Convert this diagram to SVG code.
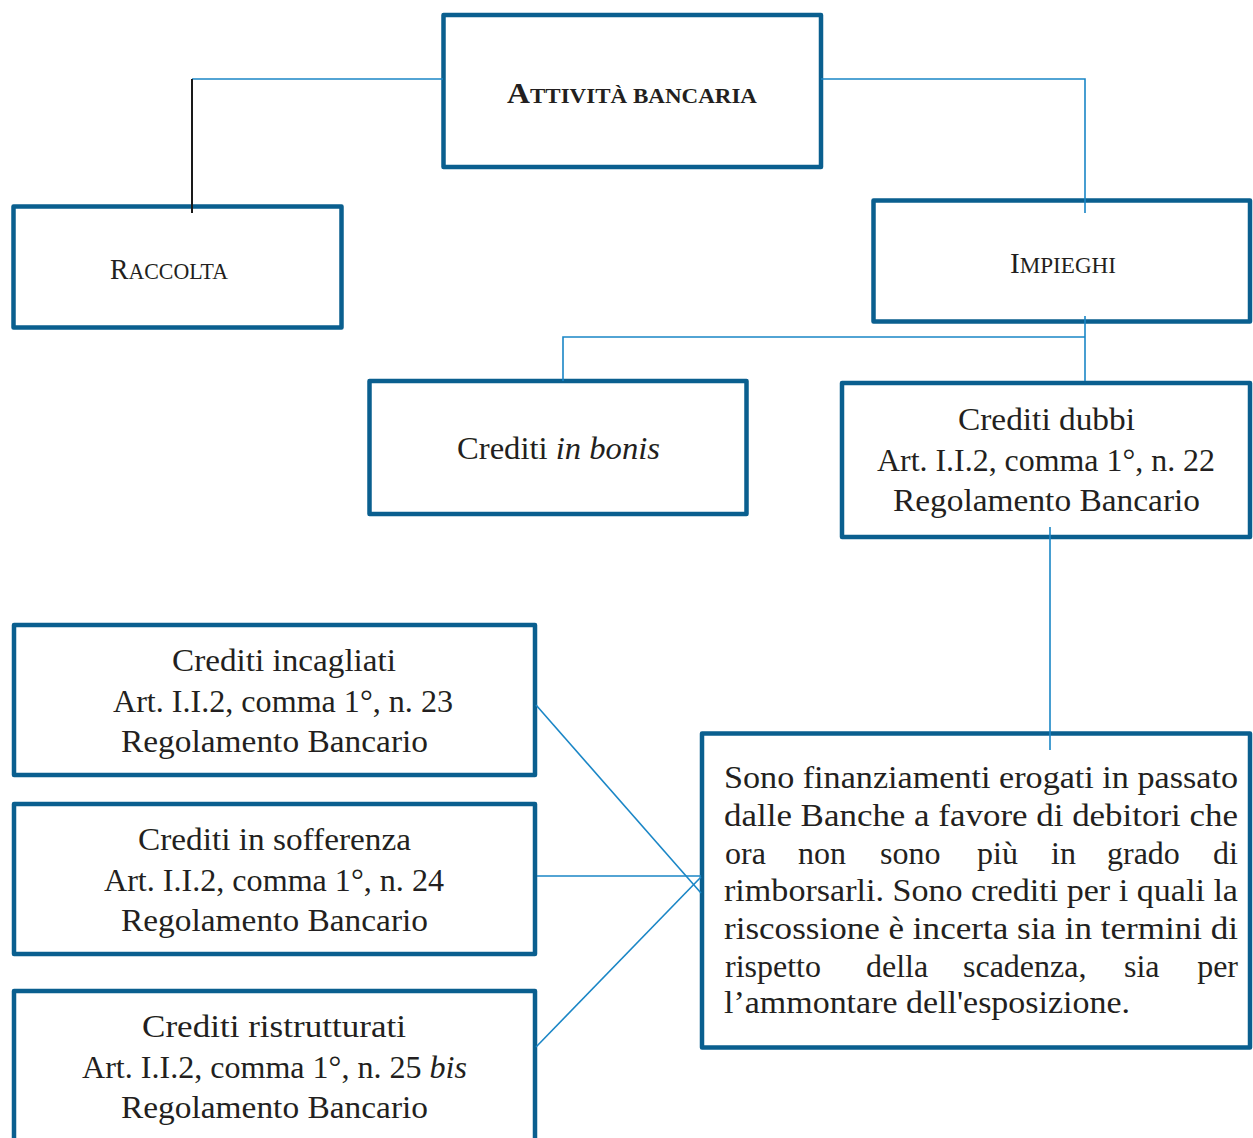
<svg xmlns="http://www.w3.org/2000/svg" width="1253" height="1138" viewBox="0 0 1253 1138">
<style>
.box{fill:#ffffff;stroke:#0a5f8f;stroke-width:4.5;stroke-linejoin:round}
.t{font-family:"Liberation Serif","Times New Roman",serif;font-size:32px;fill:#231f20}
.c{text-anchor:middle}
.e{text-anchor:end}
.con{fill:none;stroke:#1a86c6;stroke-width:1.6}
</style>
<rect width="1253" height="1138" fill="#ffffff"/>
<g id="attivita">
<rect class="box" x="443.5" y="15" width="377.5" height="152"/>
<text class="t c" x="632" y="103" font-weight="bold" textLength="250" lengthAdjust="spacingAndGlyphs"><tspan font-size="29">A</tspan><tspan font-size="21">TTIVITÀ BANCARIA</tspan></text>
</g>
<g id="raccolta">
<rect class="box" x="13.5" y="206.5" width="328" height="121"/>
<text class="t c" x="169" y="279" textLength="118" lengthAdjust="spacingAndGlyphs"><tspan font-size="29">R</tspan><tspan font-size="23">ACCOLTA</tspan></text>
</g>
<g id="impieghi">
<rect class="box" x="873.5" y="200.5" width="376.5" height="121"/>
<text class="t c" x="1063" y="273" textLength="106" lengthAdjust="spacingAndGlyphs"><tspan font-size="29">I</tspan><tspan font-size="23">MPIEGHI</tspan></text>
</g>
<g id="bonis">
<rect class="box" x="369.5" y="381" width="377" height="133"/>
<text class="t c" x="558.5" y="459" textLength="203" lengthAdjust="spacingAndGlyphs">Crediti <tspan font-style="italic">in bonis</tspan></text>
</g>
<g id="dubbi">
<rect class="box" x="842" y="383" width="408" height="154"/>
<text class="t c" x="1046.5" y="430" textLength="177" lengthAdjust="spacingAndGlyphs">Crediti dubbi</text>
<text class="t c" x="1046" y="471" textLength="338" lengthAdjust="spacingAndGlyphs">Art. I.I.2, comma 1°, n. 22</text>
<text class="t c" x="1046.5" y="511" textLength="307" lengthAdjust="spacingAndGlyphs">Regolamento Bancario</text>
</g>
<g id="incagliati">
<rect class="box" x="14" y="625" width="521" height="150"/>
<text class="t c" x="284" y="671" textLength="224" lengthAdjust="spacingAndGlyphs">Crediti incagliati</text>
<text class="t c" x="283" y="712" textLength="340" lengthAdjust="spacingAndGlyphs">Art. I.I.2, comma 1°, n. 23</text>
<text class="t c" x="274.5" y="752" textLength="307" lengthAdjust="spacingAndGlyphs">Regolamento Bancario</text>
</g>
<g id="sofferenza">
<rect class="box" x="14" y="804" width="521" height="150"/>
<text class="t c" x="274.5" y="850" textLength="273" lengthAdjust="spacingAndGlyphs">Crediti in sofferenza</text>
<text class="t c" x="274" y="891" textLength="340" lengthAdjust="spacingAndGlyphs">Art. I.I.2, comma 1°, n. 24</text>
<text class="t c" x="274.5" y="931" textLength="307" lengthAdjust="spacingAndGlyphs">Regolamento Bancario</text>
</g>
<g id="ristrutturati">
<rect class="box" x="14" y="991" width="521" height="200"/>
<text class="t c" x="274" y="1037" textLength="264" lengthAdjust="spacingAndGlyphs">Crediti ristrutturati</text>
<text class="t c" x="274.5" y="1078" textLength="385" lengthAdjust="spacingAndGlyphs">Art. I.I.2, comma 1°, n. 25 <tspan font-style="italic">bis</tspan></text>
<text class="t c" x="274.5" y="1118" textLength="307" lengthAdjust="spacingAndGlyphs">Regolamento Bancario</text>
</g>
<g id="descrizione">
<rect class="box" x="702" y="733.5" width="548" height="314"/>
<text class="t" x="724" y="788" textLength="514" lengthAdjust="spacingAndGlyphs">Sono finanziamenti erogati in passato</text>
<text class="t" x="724" y="826" textLength="514" lengthAdjust="spacingAndGlyphs">dalle Banche a favore di debitori che</text>
<text class="t" x="725" y="864">ora</text>
<text class="t" x="798" y="864">non</text>
<text class="t" x="880" y="864">sono</text>
<text class="t" x="977" y="864">più</text>
<text class="t" x="1051" y="864">in</text>
<text class="t" x="1107" y="864">grado</text>
<text class="t e" x="1238" y="864">di</text>
<text class="t" x="724" y="901" textLength="514" lengthAdjust="spacingAndGlyphs">rimborsarli. Sono crediti per i quali la</text>
<text class="t" x="724" y="939" textLength="514" lengthAdjust="spacingAndGlyphs">riscossione è incerta sia in termini di</text>
<text class="t" x="725" y="977">rispetto</text>
<text class="t" x="866" y="977">della</text>
<text class="t" x="963" y="977">scadenza,</text>
<text class="t" x="1124" y="977">sia</text>
<text class="t e" x="1238" y="977">per</text>
<text class="t" x="724" y="1013" textLength="406" lengthAdjust="spacingAndGlyphs">l’ammontare dell'esposizione.</text>
</g>
<g id="connectors">
<polyline class="con" points="443,79 192,79"/>
<line x1="192" y1="79" x2="192" y2="213" stroke="#1a1a1a" stroke-width="2"/>
<polyline class="con" points="821,79 1085,79 1085,213"/>
<line class="con" x1="1085" y1="316" x2="1085" y2="381"/>
<polyline class="con" points="1085,337 563,337 563,381"/>
<line class="con" x1="1050" y1="527" x2="1050" y2="750"/>
<line class="con" x1="536" y1="705" x2="701" y2="893"/>
<line class="con" x1="537" y1="876" x2="701" y2="876"/>
<line class="con" x1="536" y1="1047" x2="701" y2="877"/>
</g>
</svg>
